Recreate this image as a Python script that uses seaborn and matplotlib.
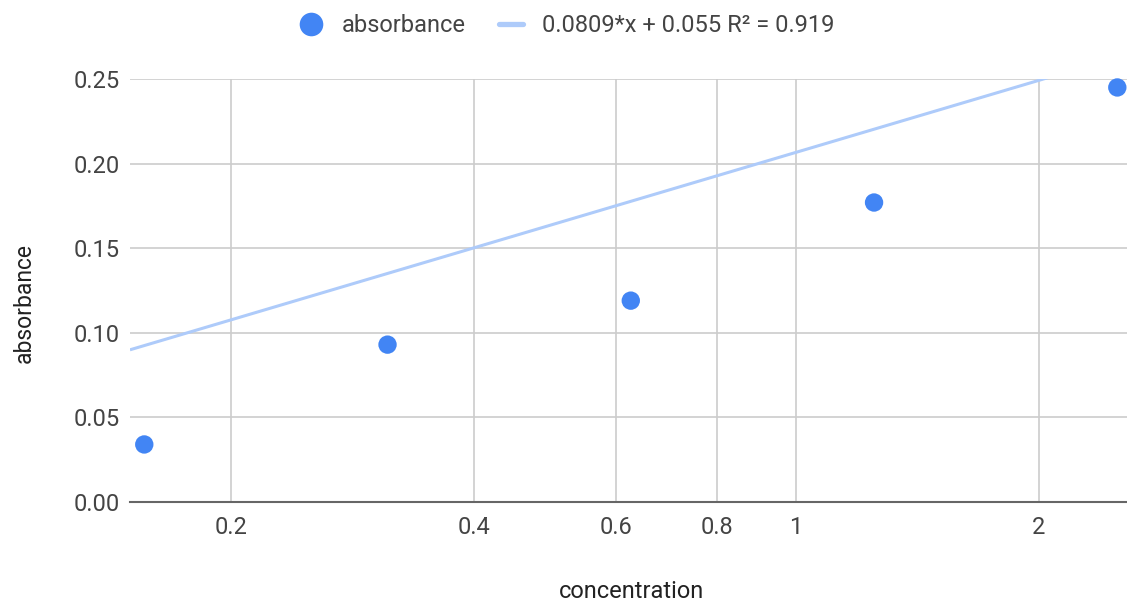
import matplotlib
matplotlib.use("Agg")
import matplotlib.pyplot as plt
import seaborn as sns
import numpy as np
import pandas as pd
from matplotlib.lines import Line2D
from matplotlib.ticker import FixedLocator, FixedFormatter, NullLocator

# data
concentration = [0.15625, 0.3125, 0.625, 1.25, 2.5]
absorbance = [0.034, 0.093, 0.119, 0.177, 0.245]

# trendline as drawn by the source chart (straight on the log axis)
trend_slope = 0.1416      # absorbance per decade of concentration
trend_intercept = 0.2066  # absorbance at concentration = 1
trend_label = "0.0809*x + 0.055 R\u00b2 = 0.919"

x_ticks = [0.2, 0.4, 0.6, 0.8, 1, 2]
x_tick_labels = ["0.2", "0.4", "0.6", "0.8", "1", "2"]
y_ticks = [0.00, 0.05, 0.10, 0.15, 0.20, 0.25]

df = pd.DataFrame({"concentration": concentration, "absorbance": absorbance})

sns.set_style("white")
plt.rcParams["font.family"] = ["Roboto", "DejaVu Sans"]

point_color = "#4285F4"
trend_color = "#AECBFA"
text_color = "#444444"

fig = plt.figure(figsize=(11.27, 6.04), dpi=100)
ax = fig.add_axes([0.1153, 0.1689, 0.8847, 0.7003])
ax.set_xscale("log")
ax.set_xlim(0.150, 2.57)
ax.set_ylim(0, 0.25)

# trendline
xs = np.geomspace(0.150, 2.57, 50)
ax.plot(xs, trend_intercept + trend_slope * np.log10(xs), color=trend_color,
        lw=2.2, zorder=2, solid_capstyle="butt")

sns.scatterplot(data=df, x="concentration", y="absorbance", ax=ax, s=175,
                color=point_color, edgecolor="none", zorder=3, clip_on=False,
                legend=False)

ax.xaxis.set_major_locator(FixedLocator(x_ticks))
ax.xaxis.set_major_formatter(FixedFormatter(x_tick_labels))
ax.xaxis.set_minor_locator(NullLocator())
ax.set_yticks(y_ticks)
ax.set_yticklabels([f"{v:.2f}" for v in y_ticks])

ax.grid(True, color="#cccccc", lw=1.2, zorder=0)
ax.set_axisbelow(True)
for side in ["top", "right", "left"]:
    ax.spines[side].set_visible(False)
ax.spines["bottom"].set_color("#666666")
ax.spines["bottom"].set_linewidth(1.5)
ax.spines["bottom"].set_zorder(2.5)
ax.tick_params(axis="both", length=0, labelsize=17, colors=text_color)
ax.tick_params(axis="x", pad=10)
ax.tick_params(axis="y", pad=7)

ax.set_xlabel("concentration", fontsize=17, color="#222222")
ax.xaxis.set_label_coords(0.503, -0.185)
ax.set_ylabel("absorbance", fontsize=16.5, color="#222222")
ax.yaxis.set_label_coords(-0.094, 0.47)

handles = [
    Line2D([0], [0], marker="o", color="none", markerfacecolor=point_color,
           markeredgecolor="none", markersize=17, label="absorbance"),
    Line2D([0], [0], color=trend_color, lw=3.8, label=trend_label),
]
fig.legend(handles=handles, loc="center", bbox_to_anchor=(0.503, 0.957), ncol=2,
           frameon=False, fontsize=17, handlelength=1.0, handletextpad=0.8,
           columnspacing=1.4, labelcolor=text_color)

fig.savefig("out.png", dpi=100)
